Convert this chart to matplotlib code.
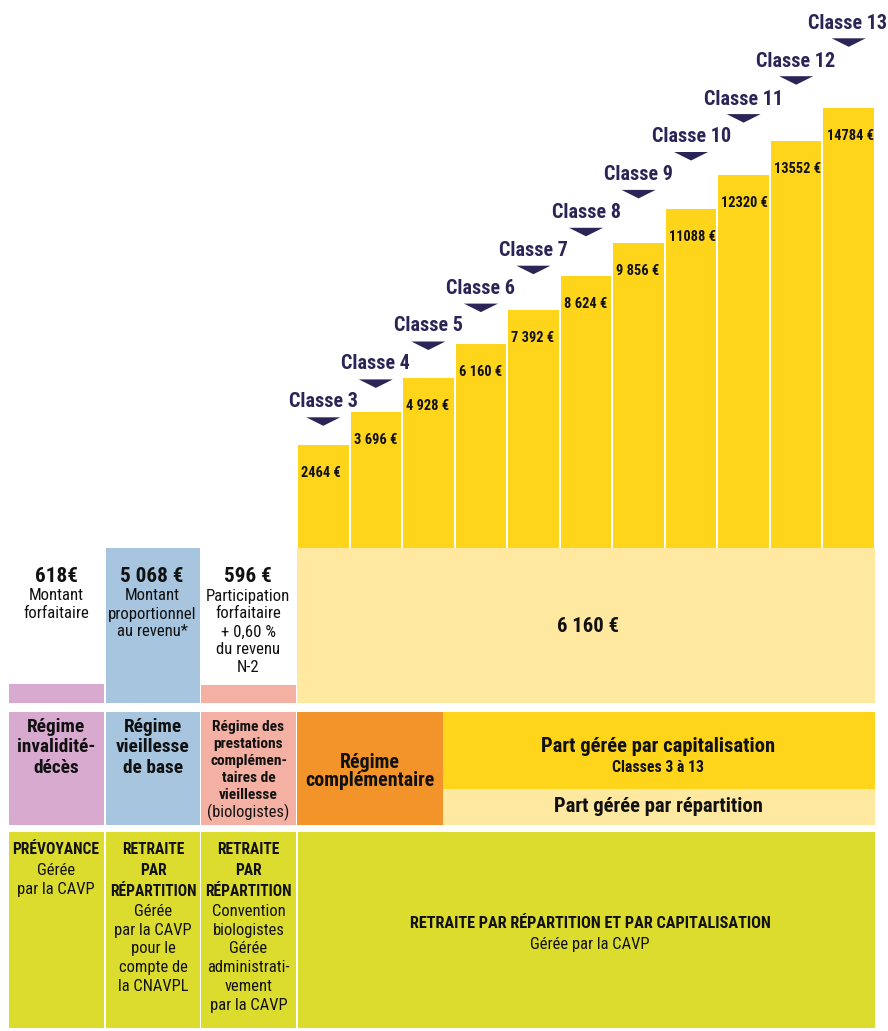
import numpy as np
import matplotlib
matplotlib.use("Agg")
import matplotlib.pyplot as plt
from matplotlib import font_manager as fm
from matplotlib.patches import Rectangle, Polygon
from matplotlib.transforms import blended_transform_factory

# --- данные ---
class_names = ["Classe 3", "Classe 4", "Classe 5", "Classe 6", "Classe 7", "Classe 8",
               "Classe 9", "Classe 10", "Classe 11", "Classe 12", "Classe 13"]
class_values = [2464, 3696, 4928, 6160, 7392, 8624, 9856, 11088, 12320, 13552, 14784]
class_labels = ["2464 €", "3 696 €", "4 928 €", "6 160 €", "7 392 €", "8 624 €",
                "9 856 €", "11088 €", "12320 €", "13552 €", "14784 €"]

base_values = [618, 5068, 596, 6160]
base_titles = ["618€", "5 068 €", "596 €", "6 160 €"]
base_notes = [["Montant", "forfaitaire"],
              ["Montant", "proportionnel", "au revenu*"],
              ["Participation", "forfaitaire", "+ 0,60 %", "du revenu", "N-2"],
              []]

# --- цвета ---
YELLOW = "#FFD51C"
PALE = "#FFE9A1"
PINK = "#D9AAD0"
BLUE = "#A7C5DF"
SALMON = "#F4B1A3"
ORANGE = "#F29429"
OLIVE = "#DCDC2F"
NAVY = "#2A2556"
INK = "#111111"

# --- шрифт: ищем узкий (condensed) ---
fonts = fm.fontManager.ttflist
family, stretch, fs = "DejaVu Sans", "normal", 0.8
for nm in ["Liberation Sans Narrow", "Arial Narrow", "Roboto Condensed",
           "Open Sans Condensed", "DejaVu Sans Condensed", "Noto Sans Condensed"]:
    if any(f.name == nm for f in fonts):
        family, fs = nm, (1.0 if "Narrow" in nm else 0.9)
        break
else:
    for nm in ["Roboto", "Noto Sans", "Open Sans", "DejaVu Sans"]:
        if any(f.name == nm and f.stretch in ("condensed", "semi-condensed", "extra-condensed")
               for f in fonts):
            family, stretch, fs = nm, "condensed", 0.9
            break
plt.rcParams["font.family"] = [family, "DejaVu Sans"]
plt.rcParams["font.stretch"] = stretch
fs *= 1.1

W, H = 888, 1031
fig = plt.figure(figsize=(W / 100, H / 100), dpi=100)

# --- 1. ступеньки классов ---
K = 0.027427          # px на 1 €
Y0 = -1276            # нижняя граница шкалы
up = fig.add_axes([297 / W, 1 - 548 / H, 578 / W, 548 / H])
up.set_xlim(-0.5, len(class_values) - 0.5)
up.set_ylim(Y0, Y0 + 548 / K)
up.axis("off")
idx = np.arange(len(class_values))
vals = np.array(class_values)
up.bar(idx, vals - Y0, bottom=Y0, width=0.962, color=YELLOW, linewidth=0)

for i, (v, lbl) in enumerate(zip(class_values, class_labels)):
    up.annotate(lbl, xy=(i - 0.48, v), xytext=(3, -28), textcoords="offset pixels",
                ha="left", va="center", fontsize=10.5 * fs, fontweight="bold", color=INK)

# --- 2. базовые взносы ---
low = fig.add_axes([0, 1 - 703 / H, 1, 155 / H])
low.set_xlim(0, W)
low.set_ylim(0, base_values[1])
low.axis("off")
lefts = [9, 106, 201, 297]
widths = [95, 94, 95, 578]
low.bar(lefts, base_values, width=widths, align="edge",
        color=[PINK, BLUE, SALMON, PALE], linewidth=0)

# фон и подписи в пикселях, поверх осей с барами
bg = fig.add_axes([0, 0, 1, 1])
bg.set_xlim(0, W)
bg.set_ylim(H, 0)
bg.axis("off")
bg.patch.set_visible(False)
bg.set_zorder(5)


def txt(x, y, s, size, bold=False, color=INK, **kw):
    bg.text(x, y, s, fontsize=size * fs, fontweight="bold" if bold else "normal",
            ha=kw.pop("ha", "center"), va="center", color=color, **kw)


def box(x0, x1, y0, y1, color):
    bg.add_patch(Rectangle((x0, y0), x1 - x0, y1 - y0, facecolor=color, edgecolor="none"))


# подписи "Classe N" лесенкой
tr = blended_transform_factory(up.transData, bg.transData)
half = 17 / (578 / len(class_values))
for i, name in enumerate(class_names):
    ty = 401.5 - 37.8 * i
    bg.text(i - 0.02 * (i > 8), ty, name, transform=tr, ha="center", va="center",
            fontsize=14.6 * fs, fontweight="bold", color=NAVY)
    top = 417.3 - 37.9 * i
    bg.add_patch(Polygon([(i - half, top), (i + half, top), (i, top + 8.5)],
                         closed=True, transform=tr, facecolor=NAVY, edgecolor="none"))

centers = [56, 152, 248]
for cx, title, notes in zip(centers, base_titles[:3], base_notes[:3]):
    txt(cx, 576, title, 15.5, bold=True)
    for k, line in enumerate(notes):
        txt(cx, 596 + 18 * k, line, 12.2)
txt(588, 626, base_titles[3], 15, bold=True)

# --- 3. режимы ---
box(9, 104, 712, 825, PINK)
box(106, 200, 712, 825, BLUE)
box(201, 296, 712, 825, SALMON)
box(297, 443, 712, 825, ORANGE)
box(443, 875, 712, 789, YELLOW)
box(443, 875, 789, 825, PALE)

for k, line in enumerate(["Régime", "invalidité-", "décès"]):
    txt(56, 727 + 20.5 * k, line, 14, bold=True)
for k, line in enumerate(["Régime", "vieillesse", "de base"]):
    txt(153, 727 + 20.5 * k, line, 14, bold=True)
for k, line in enumerate(["Régime des", "prestations", "complémen-", "taires de", "vieillesse"]):
    txt(248.5, 727 + 17 * k, line, 11.2, bold=True)
txt(248.5, 812, "(biologistes)", 12)
txt(370, 762, "Régime", 14.5, bold=True)
txt(370, 781, "complémentaire", 14.5, bold=True)
txt(658, 747, "Part gérée par capitalisation", 15, bold=True)
txt(658, 768, "Classes 3 à 13", 11.5, bold=True)
txt(658, 806, "Part gérée par répartition", 15, bold=True)

# --- 4. гестион ---
box(9, 104, 832, 1028, OLIVE)
box(106, 200, 832, 1028, OLIVE)
box(201, 296, 832, 1028, OLIVE)
box(298, 875, 832, 1028, OLIVE)

col_lines = [
    [("PRÉVOYANCE", True), ("Gérée", False), ("par la CAVP", False)],
    [("RETRAITE", True), ("PAR", True), ("RÉPARTITION", True), ("Gérée", False),
     ("par la CAVP", False), ("pour le", False), ("compte de", False), ("la CNAVPL", False)],
    [("RETRAITE", True), ("PAR", True), ("RÉPARTITION", True), ("Convention", False),
     ("biologistes", False), ("Gérée", False), ("administrati-", False), ("vement", False),
     ("par la CAVP", False)],
]
for cx, lines in zip([56, 153, 248.5], col_lines):
    y = 850
    prev = None
    for s, b in lines:
        if prev is not None:
            y += 20.5 if prev else 18.7
        txt(cx, y, s, 11.3 if b else 12, bold=b)
        prev = b
txt(590, 923, "RETRAITE PAR RÉPARTITION ET PAR CAPITALISATION", 11.8, bold=True)
txt(590, 945, "Gérée par la CAVP", 12)

fig.savefig("out.png", dpi=100)
